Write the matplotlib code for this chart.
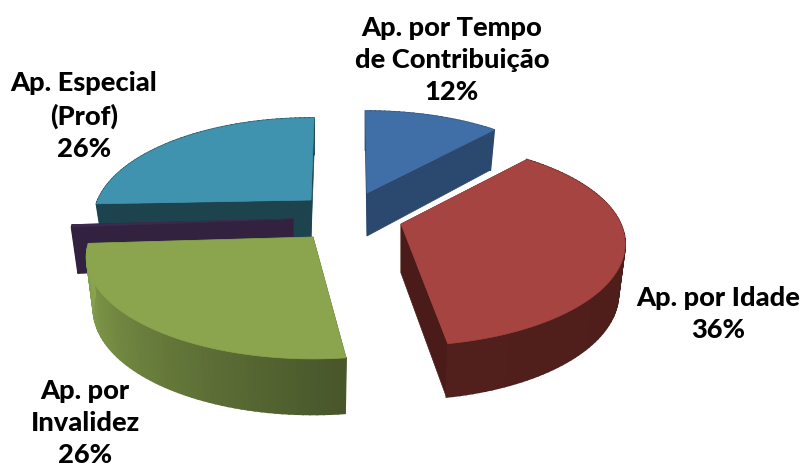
import numpy as np
import matplotlib
matplotlib.use("Agg")
import matplotlib.pyplot as plt

# ---- data ----
names = ["Ap. por Tempo\nde Contribuição", "Ap. por Idade", "Ap. por\nInvalidez", "Outros", "Ap. Especial\n(Prof)"]
values = [12, 36, 26, 0.4, 26]
percent_labels = ["12%", "36%", "26%", None, "26%"]

# ---- style ----
top_colors = ["#3f6fa6", "#a54441", "#8aa54e", "#3c2a4e", "#3f93ae"]
face_colors = ["#2b486e", "#4a1b18", "#4a5a2b", "#32213f", "#1c434e"]
rim_start = ["#2b486e", "#4a1b17", "#47552a", "#32213f", "#1c434e"]
rim_end = ["#2b486e", "#52201c", "#8aa54e", "#32213f", "#1c434e"]
apex_px = [(367, 193), (401, 224), (313, 237), (293, 219), (311, 200)]
rim_depth = [43, 49, 51, 46, 40]
rotation_deg = [-0.5, -2.0, 1.0, 0.0, 1.0]
radius_scale = [0.97, 0.99, 1.0, 0.985, 0.96]
label_pos = [(452, 60), (718, 314), (85, 423), None, (84, 116)]
RX, RY, K = 222, 98, 0.196


def project(theta, apex, scale=1.0, depth=0.0):
    """theta: clockwise from 12 o'clock, radians. Returns pixel coords."""
    u, v = np.sin(theta), np.cos(theta)
    s = 1.0 / (1.0 + K * v)
    shrink = 1.0 - 0.03 * (depth > 0)
    x = apex[0] + shrink * scale * RX * u * s
    y = apex[1] - RY * v * s + depth * (1 - 0.09 * v)
    return x, y


def lerp(c0, c1, t):
    a = np.array(matplotlib.colors.to_rgb(c0))
    b = np.array(matplotlib.colors.to_rgb(c1))
    return tuple(a + (b - a) * t)


plt.rcParams["font.family"] = ["Lato", "DejaVu Sans"]
fig = plt.figure(figsize=(8.03, 4.68), dpi=100)
ax = fig.add_axes([0, 0, 1, 1])
ax.set_xlim(0, 803)
ax.set_ylim(468, 0)
ax.axis("off")

total = sum(values)
edges = np.concatenate([[0], np.cumsum(values)]) / total * 2 * np.pi
order = [4, 3, 0, 1, 2]  # painter's order, back to front

for i in order:
    rot = np.radians(rotation_deg[i])
    a0, a1 = edges[i] + rot, edges[i + 1] + rot
    apex = apex_px[i]
    d = rim_depth[i]
    sc = radius_scale[i]
    z = 10 + order.index(i) * 3
    # radial cut faces
    for a in (a0, a1):
        x0, y0 = project(a, apex, sc)
        x1, y1 = project(a, apex, sc, d)
        ax.fill([apex[0], x0, x1, apex[0]],
                [apex[1], y0, y1, apex[1] + d],
                color=face_colors[i], lw=0.5, zorder=z)
    # outer rim, shaded by strips
    n = max(int((a1 - a0) / np.radians(1.5)), 1)
    th = np.linspace(a0, a1, n + 1)
    for j in range(n):
        xa, ya = project(th[j], apex, sc)
        xb, yb = project(th[j + 1], apex, sc)
        xc, yc = project(th[j + 1], apex, sc, d)
        xd, yd = project(th[j], apex, sc, d)
        c = lerp(rim_start[i], rim_end[i], (j + 0.5) / n)
        ax.fill([xa, xb, xc, xd], [ya, yb, yc, yd], facecolor=c, edgecolor=c,
                lw=1.2, zorder=z + 1)
    # top face
    t = np.linspace(a0, a1, 120)
    xs, ys = project(t, apex, sc)
    ax.fill(np.r_[apex[0], xs], np.r_[apex[1], ys], color=top_colors[i], lw=0.5, zorder=z + 2)

for name, pct, pos in zip(names, percent_labels, label_pos):
    if pct is None:
        continue
    ax.text(pos[0], pos[1], f"{name}\n{pct}", ha="center", va="center",
            fontsize=19.6, fontweight=900, color="black",
            linespacing=1.41, zorder=50)

fig.savefig("out.png", dpi=100, facecolor="white")
